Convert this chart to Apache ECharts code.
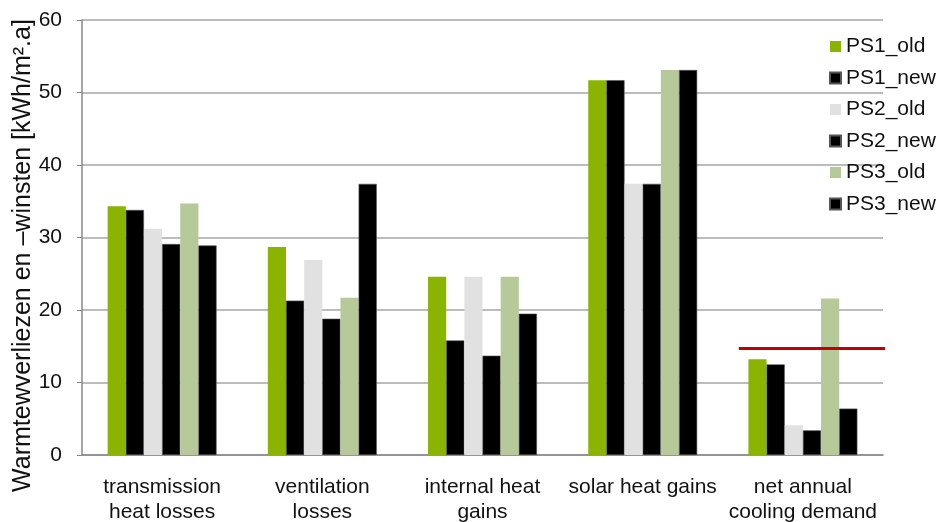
<!DOCTYPE html>
<html>
<head>
<meta charset="utf-8">
<script src="https://cdn.jsdelivr.net/npm/echarts@6/dist/echarts.min.js"></script>
<style>html,body{margin:0;padding:0;background:#fff}#c{width:939px;height:522px}</style>
</head>
<body>
<div id="c"></div>
<script>
var categories = ["transmission\nheat losses", "ventilation\nlosses", "internal heat\ngains", "solar heat gains", "net annual\ncooling demand"];
var seriesNames = ["PS1_old", "PS1_new", "PS2_old", "PS2_new", "PS3_old", "PS3_new"];
var PS1_old = [34.3, 28.7, 24.6, 51.7, 13.2];
var PS1_new = [33.8, 21.3, 15.8, 51.7, 12.5];
var PS2_old = [31.2, 26.9, 24.6, 37.4, 4.1];
var PS2_new = [29.1, 18.8, 13.7, 37.4, 3.4];
var PS3_old = [34.7, 21.7, 24.6, 53.1, 21.6];
var PS3_new = [28.9, 37.4, 19.5, 53.1, 6.4];
var limitValue = 14.7;
var limitSpan = [4.1, 5.03];
var yTicks = [0, 10, 20, 30, 40, 50, 60];

var colors = ["#8ab400", "#000000", "#e1e1e1", "#000000", "#b5c999", "#000000"];
var values = [PS1_old, PS1_new, PS2_old, PS2_new, PS3_old, PS3_new];
var font = "Liberation Sans, Arial, sans-serif";

var series = seriesNames.map(function (n, i) {
  return {
    name: n, type: 'bar', data: values[i],
    barGap: '0%', barCategoryGap: '32%',
    itemStyle: { color: colors[i], borderColor: colors[i] === '#000000' ? '#555' : colors[i], borderWidth: colors[i] === '#000000' ? 0.6 : 0 },
    emphasis: { disabled: true }
  };
});
series.push({
  name: 'limit', type: 'line', xAxisIndex: 1, clip: false, symbol: 'none',
  data: [[limitSpan[0], limitValue], [limitSpan[1], limitValue]],
  lineStyle: { color: '#c00000', width: 3 }, z: 5, silent: true
});

var chart = echarts.init(document.getElementById('c'), null, { renderer: 'canvas' });
chart.setOption({
  animation: false,
  textStyle: { fontFamily: font },
  grid: { left: 82, right: 56, top: 20, bottom: 67, containLabel: false, outerBoundsMode: 'none' },
  legend: {
    data: seriesNames, orient: 'vertical', left: 824, top: 31,
    itemWidth: 11, itemHeight: 11, itemGap: 10.5,
    textStyle: { fontSize: 21, color: '#111', fontFamily: font },
    icon: 'rect', selectedMode: false
  },
  xAxis: [{
    type: 'category', data: categories,
    axisLine: { lineStyle: { color: '#888', width: 1.5 } },
    axisTick: { show: false },
    axisLabel: { fontSize: 21, color: '#111', margin: 20, lineHeight: 25, interval: 0, fontFamily: font }
  }, {
    type: 'value', min: 0, max: 5, show: false
  }],
  yAxis: {
    type: 'value', min: 0, max: 60, interval: 10,
    name: 'Warmtewverliezen en –winsten [kWh/m².a]', nameLocation: 'middle', nameGap: 46,
    nameMoveOverlap: false,
    nameTextStyle: { fontSize: 25, color: '#111', fontFamily: font, padding: [0, 36, 0, 0] },
    axisLine: { show: true, lineStyle: { color: '#888', width: 1.5 } },
    axisTick: { show: true, length: 5, lineStyle: { color: '#888' } },
    axisLabel: { fontSize: 21, color: '#111', margin: 20, fontFamily: font },
    splitLine: { lineStyle: { color: '#a6a6a6', width: 1.5 } }
  },
  series: series
});
</script>
</body>
</html>
